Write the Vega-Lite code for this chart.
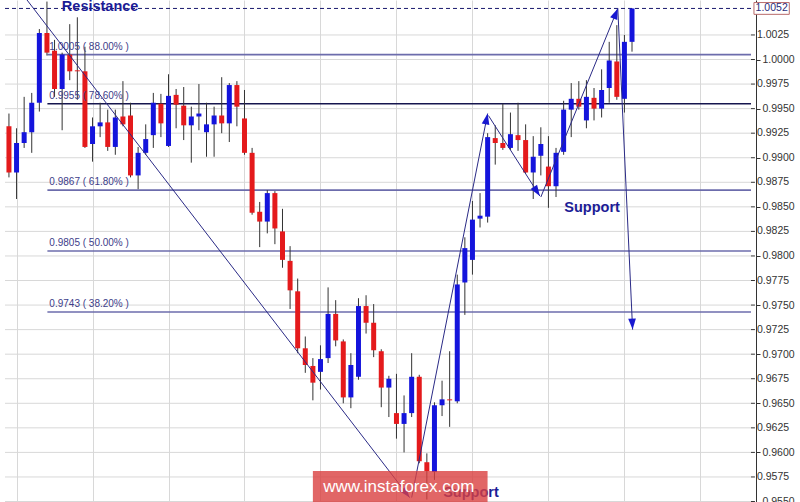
{
  "$schema": "https://vega.github.io/schema/vega-lite/v6.json",
  "width": 756,
  "height": 502,
  "autosize": {"type": "none"},
  "padding": {"left": 0, "top": 0, "right": 44, "bottom": 0},
  "background": "white",
  "config": {"view": {"stroke": null}, "font": "Liberation Sans"},
  "datasets": {
    "candles": [
      {"t":0,"o":0.9932,"c":0.9885,"h":0.9945,"l":0.9880},
      {"t":1,"o":0.9885,"c":0.9915,"h":0.9930,"l":0.9858},
      {"t":2,"o":0.9915,"c":0.9926,"h":0.9962,"l":0.9910},
      {"t":3,"o":0.9926,"c":0.9956,"h":0.9966,"l":0.9905},
      {"t":4,"o":0.9956,"c":1.0027,"h":1.0031,"l":0.9947},
      {"t":5,"o":1.0027,"c":1.0007,"h":1.0059,"l":1.0004},
      {"t":6,"o":1.0009,"c":0.9970,"h":1.0020,"l":0.9962},
      {"t":7,"o":0.9970,"c":1.0005,"h":1.0007,"l":0.9928},
      {"t":8,"o":1.0005,"c":0.9988,"h":1.0036,"l":0.9979},
      {"t":9,"o":0.9989,"c":0.9988,"h":1.0043,"l":0.9959},
      {"t":10,"o":0.9988,"c":0.9911,"h":1.0013,"l":0.9910},
      {"t":11,"o":0.9914,"c":0.9932,"h":0.9941,"l":0.9896},
      {"t":12,"o":0.9932,"c":0.9936,"h":0.9956,"l":0.9921},
      {"t":13,"o":0.9936,"c":0.9911,"h":0.9949,"l":0.9907},
      {"t":14,"o":0.9911,"c":0.9941,"h":0.9949,"l":0.9903},
      {"t":15,"o":0.9942,"c":0.9934,"h":0.9978,"l":0.9932},
      {"t":16,"o":0.9943,"c":0.9882,"h":0.9956,"l":0.9880},
      {"t":17,"o":0.9882,"c":0.9905,"h":0.9911,"l":0.9868},
      {"t":18,"o":0.9905,"c":0.9919,"h":0.9934,"l":0.9903},
      {"t":19,"o":0.9923,"c":0.9956,"h":0.9966,"l":0.9910},
      {"t":20,"o":0.9955,"c":0.9935,"h":0.9965,"l":0.9921},
      {"t":21,"o":0.9912,"c":0.9963,"h":0.9985,"l":0.9911},
      {"t":22,"o":0.9964,"c":0.9954,"h":0.9970,"l":0.9930},
      {"t":23,"o":0.9953,"c":0.9933,"h":0.9972,"l":0.9918},
      {"t":24,"o":0.9933,"c":0.9942,"h":0.9952,"l":0.9895},
      {"t":25,"o":0.9942,"c":0.9945,"h":0.9975,"l":0.9928},
      {"t":26,"o":0.9926,"c":0.9934,"h":0.9956,"l":0.9901},
      {"t":27,"o":0.9934,"c":0.9943,"h":0.9952,"l":0.9901},
      {"t":28,"o":0.9943,"c":0.9935,"h":0.9982,"l":0.9925},
      {"t":29,"o":0.9935,"c":0.9974,"h":0.9976,"l":0.9916},
      {"t":30,"o":0.9974,"c":0.9952,"h":0.9978,"l":0.9932},
      {"t":31,"o":0.9940,"c":0.9905,"h":0.9969,"l":0.9903},
      {"t":32,"o":0.9905,"c":0.9844,"h":0.9910,"l":0.9842},
      {"t":33,"o":0.9845,"c":0.9835,"h":0.9855,"l":0.9809},
      {"t":34,"o":0.9835,"c":0.9864,"h":0.9867,"l":0.9823},
      {"t":35,"o":0.9864,"c":0.9828,"h":0.9866,"l":0.9812},
      {"t":36,"o":0.9825,"c":0.9796,"h":0.9848,"l":0.9788},
      {"t":37,"o":0.9795,"c":0.9765,"h":0.9810,"l":0.9746},
      {"t":38,"o":0.9764,"c":0.9706,"h":0.9777,"l":0.9701},
      {"t":39,"o":0.9706,"c":0.9689,"h":0.9718,"l":0.9681},
      {"t":40,"o":0.9688,"c":0.9671,"h":0.9696,"l":0.9653},
      {"t":41,"o":0.9682,"c":0.9695,"h":0.9709,"l":0.9664},
      {"t":42,"o":0.9696,"c":0.9741,"h":0.9768,"l":0.9691},
      {"t":43,"o":0.9741,"c":0.9714,"h":0.9755,"l":0.9708},
      {"t":44,"o":0.9713,"c":0.9656,"h":0.9715,"l":0.9650},
      {"t":45,"o":0.9656,"c":0.9689,"h":0.9701,"l":0.9645},
      {"t":46,"o":0.9677,"c":0.9749,"h":0.9757,"l":0.9674},
      {"t":47,"o":0.9749,"c":0.9732,"h":0.9760,"l":0.9721},
      {"t":48,"o":0.9732,"c":0.9704,"h":0.9751,"l":0.9697},
      {"t":49,"o":0.9703,"c":0.9666,"h":0.9705,"l":0.9646},
      {"t":50,"o":0.9666,"c":0.9675,"h":0.9678,"l":0.9636},
      {"t":51,"o":0.9640,"c":0.9629,"h":0.9680,"l":0.9614},
      {"t":52,"o":0.9629,"c":0.9640,"h":0.9658,"l":0.9600},
      {"t":53,"o":0.9640,"c":0.9677,"h":0.9701,"l":0.9636},
      {"t":54,"o":0.9677,"c":0.9591,"h":0.9679,"l":0.9589},
      {"t":55,"o":0.9590,"c":0.9581,"h":0.9599,"l":0.9552},
      {"t":56,"o":0.9580,"c":0.9648,"h":0.9651,"l":0.9572},
      {"t":57,"o":0.9648,"c":0.9654,"h":0.9673,"l":0.9637},
      {"t":58,"o":0.9654,"c":0.9653,"h":0.9703,"l":0.9626},
      {"t":59,"o":0.9652,"c":0.9771,"h":0.9781,"l":0.9650},
      {"t":60,"o":0.9773,"c":0.9808,"h":0.9819,"l":0.9740},
      {"t":61,"o":0.9796,"c":0.9837,"h":0.9856,"l":0.9781},
      {"t":62,"o":0.9838,"c":0.9841,"h":0.9864,"l":0.9829},
      {"t":63,"o":0.9840,"c":0.9921,"h":0.9925,"l":0.9834},
      {"t":64,"o":0.9920,"c":0.9915,"h":0.9933,"l":0.9893},
      {"t":65,"o":0.9915,"c":0.9910,"h":0.9955,"l":0.9908},
      {"t":66,"o":0.9910,"c":0.9924,"h":0.9946,"l":0.9908},
      {"t":67,"o":0.9923,"c":0.9918,"h":0.9956,"l":0.9907},
      {"t":68,"o":0.9918,"c":0.9885,"h":0.9934,"l":0.9884},
      {"t":69,"o":0.9885,"c":0.9901,"h":0.9922,"l":0.9858},
      {"t":70,"o":0.9902,"c":0.9914,"h":0.9931,"l":0.9882},
      {"t":71,"o":0.9891,"c":0.9871,"h":0.9922,"l":0.9849},
      {"t":72,"o":0.9871,"c":0.9905,"h":0.9910,"l":0.9860},
      {"t":73,"o":0.9906,"c":0.9949,"h":0.9958,"l":0.9903},
      {"t":74,"o":0.9949,"c":0.9960,"h":0.9976,"l":0.9921},
      {"t":75,"o":0.9960,"c":0.9952,"h":0.9978,"l":0.9949},
      {"t":76,"o":0.9938,"c":0.9962,"h":0.9979,"l":0.9930},
      {"t":77,"o":0.9961,"c":0.9950,"h":0.9971,"l":0.9938},
      {"t":78,"o":0.9950,"c":0.9969,"h":0.9990,"l":0.9941},
      {"t":79,"o":0.9971,"c":0.9999,"h":1.0018,"l":0.9956},
      {"t":80,"o":0.9998,"c":0.9962,"h":1.0035,"l":0.9959},
      {"t":81,"o":0.9960,"c":1.0018,"h":1.0025,"l":0.9946},
      {"t":82,"o":1.0018,"c":1.0052,"h":1.0052,"l":1.0008}
    ],
    "fib": [
      {"level":1.0005,"label":"1.0005 ( 88.00% )"},
      {"level":0.9955,"label":"0.9955 ( 78.60% )"},
      {"level":0.9867,"label":"0.9867 ( 61.80% )"},
      {"level":0.9805,"label":"0.9805 ( 50.00% )"},
      {"level":0.9743,"label":"0.9743 ( 38.20% )"}
    ],
    "trend": [
      {"seg":1,"k":0,"t":2.34,"p":1.0061},
      {"seg":1,"k":1,"t":52.73,"p":0.9554},
      {"seg":2,"k":0,"t":53.0,"p":0.9554},
      {"seg":2,"k":1,"t":63.0,"p":0.9945},
      {"seg":3,"k":0,"t":63.1,"p":0.9943},
      {"seg":3,"k":1,"t":69.87,"p":0.9861},
      {"seg":4,"k":0,"t":70.0,"p":0.9860},
      {"seg":4,"k":1,"t":80.13,"p":1.0052},
      {"seg":5,"k":0,"t":80.13,"p":1.0052},
      {"seg":5,"k":1,"t":82.08,"p":0.9725}
    ],
    "tips": [
      {"seg":1,"t":52.73,"p":0.9554},
      {"seg":2,"t":63.0,"p":0.9945},
      {"seg":3,"t":69.87,"p":0.9861},
      {"seg":4,"t":80.13,"p":1.0052},
      {"seg":5,"t":82.08,"p":0.9725}
    ],
    "notes": [
      {"text":"Resistance","t":12.0,"p":1.0049},
      {"text":"Support","t":76.75,"p":0.9845},
      {"text":"Support","t":60.8,"p":0.9555}
    ],
    "ticks": [
      {"v":0.955},{"v":0.9575},{"v":0.96},{"v":0.9625},{"v":0.965},{"v":0.9675},{"v":0.97},{"v":0.9725},{"v":0.975},{"v":0.9775},
      {"v":0.98},{"v":0.9825},{"v":0.985},{"v":0.9875},{"v":0.99},{"v":0.9925},{"v":0.995},{"v":0.9975},{"v":1.0},{"v":1.0025}
    ]
  },
  "layer": [
    {
      "data": {"name": "ticks"},
      "mark": {"type": "rule", "color": "#d8d8d8", "strokeWidth": 1},
      "encoding": {
        "x": {"datum": -0.52, "type": "quantitative", "scale": {"domain": [-0.52, 97.66], "nice": false, "zero": false},
          "axis": {"values": [1,6,11,16,21,26,31,36,41,46,51,56,61,66,71,76,81,86,91,96], "labels": false, "ticks": false, "domain": false, "title": null, "grid": true, "gridColor": "#d8d8d8", "gridWidth": 1}},
        "x2": {"datum": 97.66},
        "y": {"field": "v", "type": "quantitative", "scale": {"domain": [0.95495, 1.00606], "nice": false, "zero": false},
          "axis": {"orient": "right", "values": [0.955,0.9575,0.96,0.9625,0.965,0.9675,0.97,0.9725,0.975,0.9775,0.98,0.9825,0.985,0.9875,0.99,0.9925,0.995,0.9975,1.0,1.0025],
            "format": ".4f", "title": null, "grid": false, "tickColor": "#333333", "tickSize": 4,
            "domainColor": "#333333", "labelColor": "#333333", "labelFontSize": 10.5, "labelPadding": 2, "labelOverlap": false, "labelFont": "Liberation Sans"}}
      }
    },
    {
      "data": {"name": "ticks"},
      "mark": {"type": "rule", "color": "#333333", "strokeWidth": 1},
      "encoding": {
        "x": {"datum": 97.66, "type": "quantitative"},
        "x2": {"datum": 98.18},
        "y": {"field": "v", "type": "quantitative"}
      }
    },
    {
      "data": {"name": "ticks"},
      "mark": {"type": "text", "align": "left", "baseline": "middle", "fontSize": 10.5, "color": "#333333", "dx": 6},
      "encoding": {
        "x": {"datum": 97.66, "type": "quantitative"},
        "y": {"field": "v", "type": "quantitative"},
        "text": {"field": "v", "type": "quantitative", "format": ".4f"},
        "opacity": {"condition": {"test": "abs(datum.v*400 - round(datum.v*200)*2) > 0.5", "value": 1}, "value": 0}
      }
    },
    {
      "data": {"name": "fib"},
      "mark": {"type": "rule", "strokeWidth": 1.6},
      "encoding": {
        "x": {"datum": 5.06, "type": "quantitative"},
        "x2": {"datum": 97.66},
        "y": {"field": "level", "type": "quantitative"},
        "color": {"condition": {"test": "datum.level == 0.9955", "value": "#16164e"}, "value": "#6c6cac"}
      }
    },
    {
      "data": {"values": [{}]},
      "mark": {"type": "rule", "strokeDash": [4, 3], "strokeWidth": 1, "color": "#1a1a6e"},
      "encoding": {
        "x": {"datum": -0.52, "type": "quantitative"},
        "x2": {"datum": 97.66},
        "y": {"datum": 1.0052, "type": "quantitative"}
      }
    },
    {
      "data": {"name": "candles"},
      "mark": {"type": "rule", "color": "#333333", "strokeWidth": 1},
      "encoding": {
        "x": {"field": "t", "type": "quantitative"},
        "y": {"field": "l", "type": "quantitative"},
        "y2": {"field": "h"}
      }
    },
    {
      "data": {"name": "candles"},
      "mark": {"type": "bar", "size": 5},
      "encoding": {
        "x": {"field": "t", "type": "quantitative"},
        "y": {"field": "o", "type": "quantitative"},
        "y2": {"field": "c"},
        "color": {"condition": {"test": "datum.c > datum.o", "value": "#1414dc"}, "value": "#e41a1c"}
      }
    },
    {
      "data": {"name": "fib"},
      "mark": {"type": "text", "align": "left", "baseline": "bottom", "dy": -3, "fontSize": 10, "color": "#40408a"},
      "encoding": {
        "x": {"datum": 5.32, "type": "quantitative"},
        "y": {"field": "level", "type": "quantitative"},
        "text": {"field": "label"}
      }
    },
    {
      "data": {"name": "trend"},
      "mark": {"type": "line", "color": "#2a2a86", "strokeWidth": 1, "clip": true},
      "encoding": {
        "x": {"field": "t", "type": "quantitative"},
        "y": {"field": "p", "type": "quantitative"},
        "detail": {"field": "seg"},
        "order": {"field": "k"}
      }
    },
    {
      "data": {"name": "tips"},
      "transform": [{"filter": "datum.seg == 1"}],
      "mark": {"type": "point", "shape": "M0,0L0.7,2L-0.7,2Z", "size": 121, "filled": true, "color": "#1818d0", "opacity": 1, "angle": 142},
      "encoding": {"x": {"field": "t", "type": "quantitative"}, "y": {"field": "p", "type": "quantitative"}}
    },
    {
      "data": {"name": "tips"},
      "transform": [{"filter": "datum.seg == 2"}],
      "mark": {"type": "point", "shape": "M0,0L0.7,2L-0.7,2Z", "size": 121, "filled": true, "color": "#1818d0", "opacity": 1, "angle": 11},
      "encoding": {"x": {"field": "t", "type": "quantitative"}, "y": {"field": "p", "type": "quantitative"}}
    },
    {
      "data": {"name": "tips"},
      "transform": [{"filter": "datum.seg == 3"}],
      "mark": {"type": "point", "shape": "M0,0L0.7,2L-0.7,2Z", "size": 121, "filled": true, "color": "#1818d0", "opacity": 1, "angle": 147},
      "encoding": {"x": {"field": "t", "type": "quantitative"}, "y": {"field": "p", "type": "quantitative"}}
    },
    {
      "data": {"name": "tips"},
      "transform": [{"filter": "datum.seg == 4"}],
      "mark": {"type": "point", "shape": "M0,0L0.7,2L-0.7,2Z", "size": 121, "filled": true, "color": "#1818d0", "opacity": 1, "angle": 22},
      "encoding": {"x": {"field": "t", "type": "quantitative"}, "y": {"field": "p", "type": "quantitative"}}
    },
    {
      "data": {"name": "tips"},
      "transform": [{"filter": "datum.seg == 5"}],
      "mark": {"type": "point", "shape": "M0,0L0.7,2L-0.7,2Z", "size": 121, "filled": true, "color": "#1818d0", "opacity": 1, "angle": 177},
      "encoding": {"x": {"field": "t", "type": "quantitative"}, "y": {"field": "p", "type": "quantitative"}}
    },
    {
      "data": {"name": "notes"},
      "mark": {"type": "text", "align": "center", "baseline": "alphabetic", "fontSize": 14.5, "fontWeight": "bold", "color": "#1c1c96"},
      "encoding": {
        "x": {"field": "t", "type": "quantitative"},
        "y": {"field": "p", "type": "quantitative"},
        "text": {"field": "text"}
      }
    },
    {
      "data": {"values": [{}]},
      "mark": {"type": "rect", "color": "#d94040", "opacity": 0.8},
      "encoding": {
        "x": {"datum": 40.0, "type": "quantitative"},
        "x2": {"datum": 62.99},
        "y": {"datum": 0.9581, "type": "quantitative"},
        "y2": {"datum": 0.95495}
      }
    },
    {
      "data": {"values": [{"text": "www.instaforex.com"}]},
      "mark": {"type": "text", "align": "center", "baseline": "alphabetic", "fontSize": 17, "color": "#ffffff"},
      "encoding": {
        "x": {"datum": 51.3, "type": "quantitative"},
        "y": {"datum": 0.9560, "type": "quantitative"},
        "text": {"field": "text"}
      }
    },
    {
      "data": {"values": [{}]},
      "mark": {"type": "rect", "fill": "#ffffff", "stroke": "#b86a6a", "strokeWidth": 1},
      "encoding": {
        "x": {"datum": 98.05, "type": "quantitative"},
        "x2": {"datum": 102.7},
        "y": {"datum": 1.0058, "type": "quantitative"},
        "y2": {"datum": 1.0046}
      }
    },
    {
      "data": {"values": [{"text": "1.0052"}]},
      "mark": {"type": "text", "align": "center", "baseline": "middle", "fontSize": 10.5, "color": "#2b2b7a"},
      "encoding": {
        "x": {"datum": 100.38, "type": "quantitative"},
        "y": {"datum": 1.0052, "type": "quantitative"},
        "text": {"field": "text"}
      }
    }
  ]
}
